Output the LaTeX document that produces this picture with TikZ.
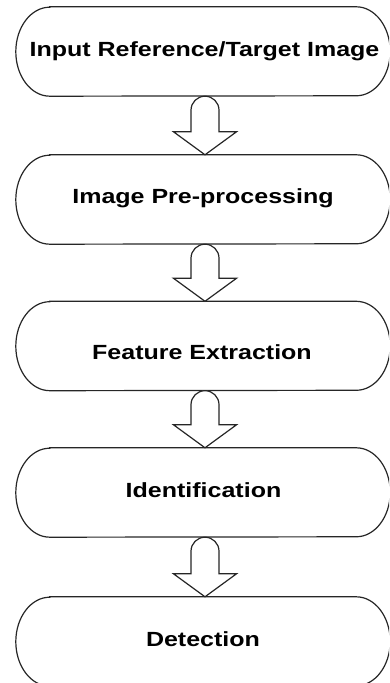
\documentclass[tikz,border=0pt]{standalone}
\usepackage{fontspec}
\setmainfont{Liberation Sans}
\usepackage{graphicx}
\usetikzlibrary{calc}
\tikzset{
  boxnode/.style={rectangle, draw=none, minimum width=374pt, minimum height=89pt, inner sep=0pt},
  outline/.style={draw=black!85, line width=1.2pt},
  lbl/.style={anchor=base, inner sep=0pt, font=\bfseries\fontsize{20.5}{25}\selectfont},
}
\newcommand\widetext[1]{\scalebox{1.22}[1]{#1}}
\newcommand\terminal[1]{%
  \draw[outline] ($(#1.north west)+(34pt,0)$) -- ($(#1.north east)+(-34pt,0)$)
    arc[start angle=90, end angle=-90, x radius=34pt, y radius=44.5pt]
    -- ($(#1.south west)+(34pt,0)$)
    arc[start angle=270, end angle=90, x radius=34pt, y radius=44.5pt] -- cycle;}
\newcommand\blockarrow[2]{%
  \draw[outline, fill=white] let \p1=($(#1.south)+(2pt,0)$), \p2=($(#2.north)+(2pt,0)$) in
    (\x1-14pt,\y1-14pt) arc[start angle=180, end angle=0, radius=14pt]
    -- (\x1+14pt,\y2+23pt) -- (\x1+31.5pt,\y2+23pt) -- (\x2,\y2)
    -- (\x1-31.5pt,\y2+23pt) -- (\x1-14pt,\y2+23pt) -- cycle;}
\begin{document}
\begin{tikzpicture}[x=1pt,y=1pt]
  \useasboundingbox (0,0) rectangle (389,683);
  \clip (0,0) rectangle (389,683);
  \node[boxnode] (b1) at (203,631.5) {};
  \node[boxnode] (b2) at (203,483.5) {};
  \node[boxnode] (b3) at (203,337) {};
  \node[boxnode] (b4) at (203,190.5) {};
  \node[boxnode] (b5) at (203,41.5) {};
  \terminal{b1}\terminal{b2}\terminal{b3}\terminal{b4}\terminal{b5}
  \blockarrow{b1}{b2}
  \blockarrow{b2}{b3}
  \blockarrow{b3}{b4}
  \blockarrow{b4}{b5}
  \node[lbl] (t1) at (204.5,626) {\widetext{Input Reference/Target Image}};
  \node[lbl] (t2) at (203,479) {\widetext{Image Pre-processing}};
  \node[lbl] (t3) at (202,323) {\widetext{Feature Extraction}};
  \node[lbl] (t4) at (203.5,185) {\widetext{Identification}};
  \node[lbl] (t5) at (203,36) {\widetext{Detection}};
\end{tikzpicture}
\end{document}
